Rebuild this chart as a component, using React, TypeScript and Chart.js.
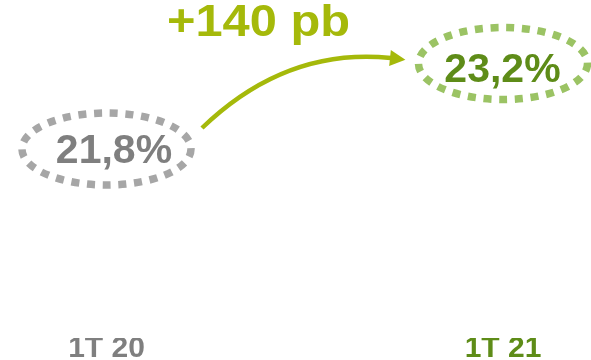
import { useEffect, useRef } from 'react';
import { Chart, registerables } from 'chart.js';

Chart.register(...registerables);

// ---- data ----
const categories: string[] = ['1T 20', '1T 21'];
const marginValues: number[] = [21.8, 23.2];
const yMin = 18.705;
const yMax = 24.24;

// ---- styles ----
const textColors = ['#7f7f7f', '#5e8c18'];
const ringColors = ['#a6a6a6', '#9bc364'];
const arrowColor = '#a5b90a';
const FONT = '"Liberation Sans", Arial, Helvetica, sans-serif';

const fmtPct = (v: number) => v.toFixed(1).replace('.', ',') + '%';

const overlayPlugin = {
  id: 'overlay',
  afterDatasetsDraw(chart: any) {
    const ctx: CanvasRenderingContext2D = chart.ctx;
    const meta = chart.getDatasetMeta(0);
    const pts = meta.data.map((p: any) => ({ x: p.x, y: p.y }));
    const textDx = [7.5, -0.5];
    const textBaseDy = [14, 18.5];
    ctx.save();
    pts.forEach((p: { x: number; y: number }, i: number) => {
      // dotted ellipse
      ctx.beginPath();
      ctx.ellipse(p.x, p.y, 84.5, 36, 0, 0, Math.PI * 2);
      ctx.lineWidth = 7.5;
      ctx.lineCap = 'butt';
      ctx.setLineDash([8, 7.7]);
      ctx.strokeStyle = ringColors[i];
      ctx.stroke();
      ctx.setLineDash([]);
      // value label
      ctx.font = `bold 41px ${FONT}`;
      ctx.fillStyle = textColors[i];
      ctx.textAlign = 'center';
      ctx.textBaseline = 'alphabetic';
      ctx.fillText(fmtPct(marginValues[i]), p.x + textDx[i], p.y + textBaseDy[i]);
    });

    if (pts.length >= 2) {
      const p0 = pts[0];
      const p1 = pts[1];
      const sx = p0.x + 95.5;
      const sy = p0.y - 21;
      const ex = p1.x - 113;
      const ey = p1.y - 5.5;
      const cx = 286;
      const cy = 47;
      // arrow shaft
      ctx.beginPath();
      ctx.moveTo(sx, sy);
      ctx.quadraticCurveTo(cx, cy, ex + 1, ey);
      ctx.lineWidth = 4.5;
      ctx.strokeStyle = arrowColor;
      ctx.stroke();
      // arrow head
      let dx = ex - cx;
      let dy = ey - cy;
      const len = Math.hypot(dx, dy);
      dx /= len;
      dy /= len;
      const tipX = ex + dx * 15.5;
      const tipY = ey + dy * 15.5;
      const nx = -dy;
      const ny = dx;
      ctx.beginPath();
      ctx.moveTo(tipX, tipY);
      ctx.lineTo(ex + nx * 8, ey + ny * 8);
      ctx.lineTo(ex - nx * 8, ey - ny * 8);
      ctx.closePath();
      ctx.fillStyle = arrowColor;
      ctx.fill();

      // delta label
      const bp = Math.round((marginValues[1] - marginValues[0]) * 100);
      const label = (bp >= 0 ? '+' : '') + bp + ' pb';
      ctx.font = `bold 44px ${FONT}`;
      const w = ctx.measureText(label).width;
      const target = 183;
      const sc = target / w;
      ctx.save();
      ctx.translate(258.5, 36);
      ctx.scale(sc, 1);
      ctx.fillStyle = arrowColor;
      ctx.textAlign = 'center';
      ctx.textBaseline = 'alphabetic';
      ctx.fillText(label, 0, 0);
      ctx.restore();
    }
    ctx.restore();
  },
};

export default function App() {
  const ref = useRef<HTMLCanvasElement | null>(null);

  useEffect(() => {
    if (!ref.current) return;
    const chart = new Chart(ref.current, {
      type: 'line',
      data: {
        labels: categories,
        datasets: [
          {
            data: marginValues,
            showLine: false,
            pointRadius: 0,
            pointHoverRadius: 0,
            borderColor: 'transparent',
            backgroundColor: 'transparent',
          },
        ],
      },
      options: {
        responsive: false,
        animation: false,
        events: [],
        layout: { padding: { left: 106.5, right: 88, top: 0, bottom: 0 } },
        plugins: { legend: { display: false }, tooltip: { enabled: false } },
        scales: {
          x: {
            type: 'category',
            offset: false,
            grid: { display: false, drawTicks: false },
            border: { display: false },
            ticks: {
              padding: 0,
              font: { family: FONT, size: 30, weight: 'bold', lineHeight: 22 / 30 },
              color: (c: any) => textColors[c.index] ?? '#7f7f7f',
              maxRotation: 0,
              autoSkip: false,
            },
          },
          y: {
            display: false,
            min: yMin,
            max: yMax,
          },
        },
      },
      plugins: [overlayPlugin],
    });
    return () => chart.destroy();
  }, []);

  return (
    <div style={{ position: 'absolute', left: 0, top: 0, width: 591, height: 360, background: '#fff' }}>
      <canvas ref={ref} width={591} height={360} style={{ display: 'block' }} />
    </div>
  );
}
